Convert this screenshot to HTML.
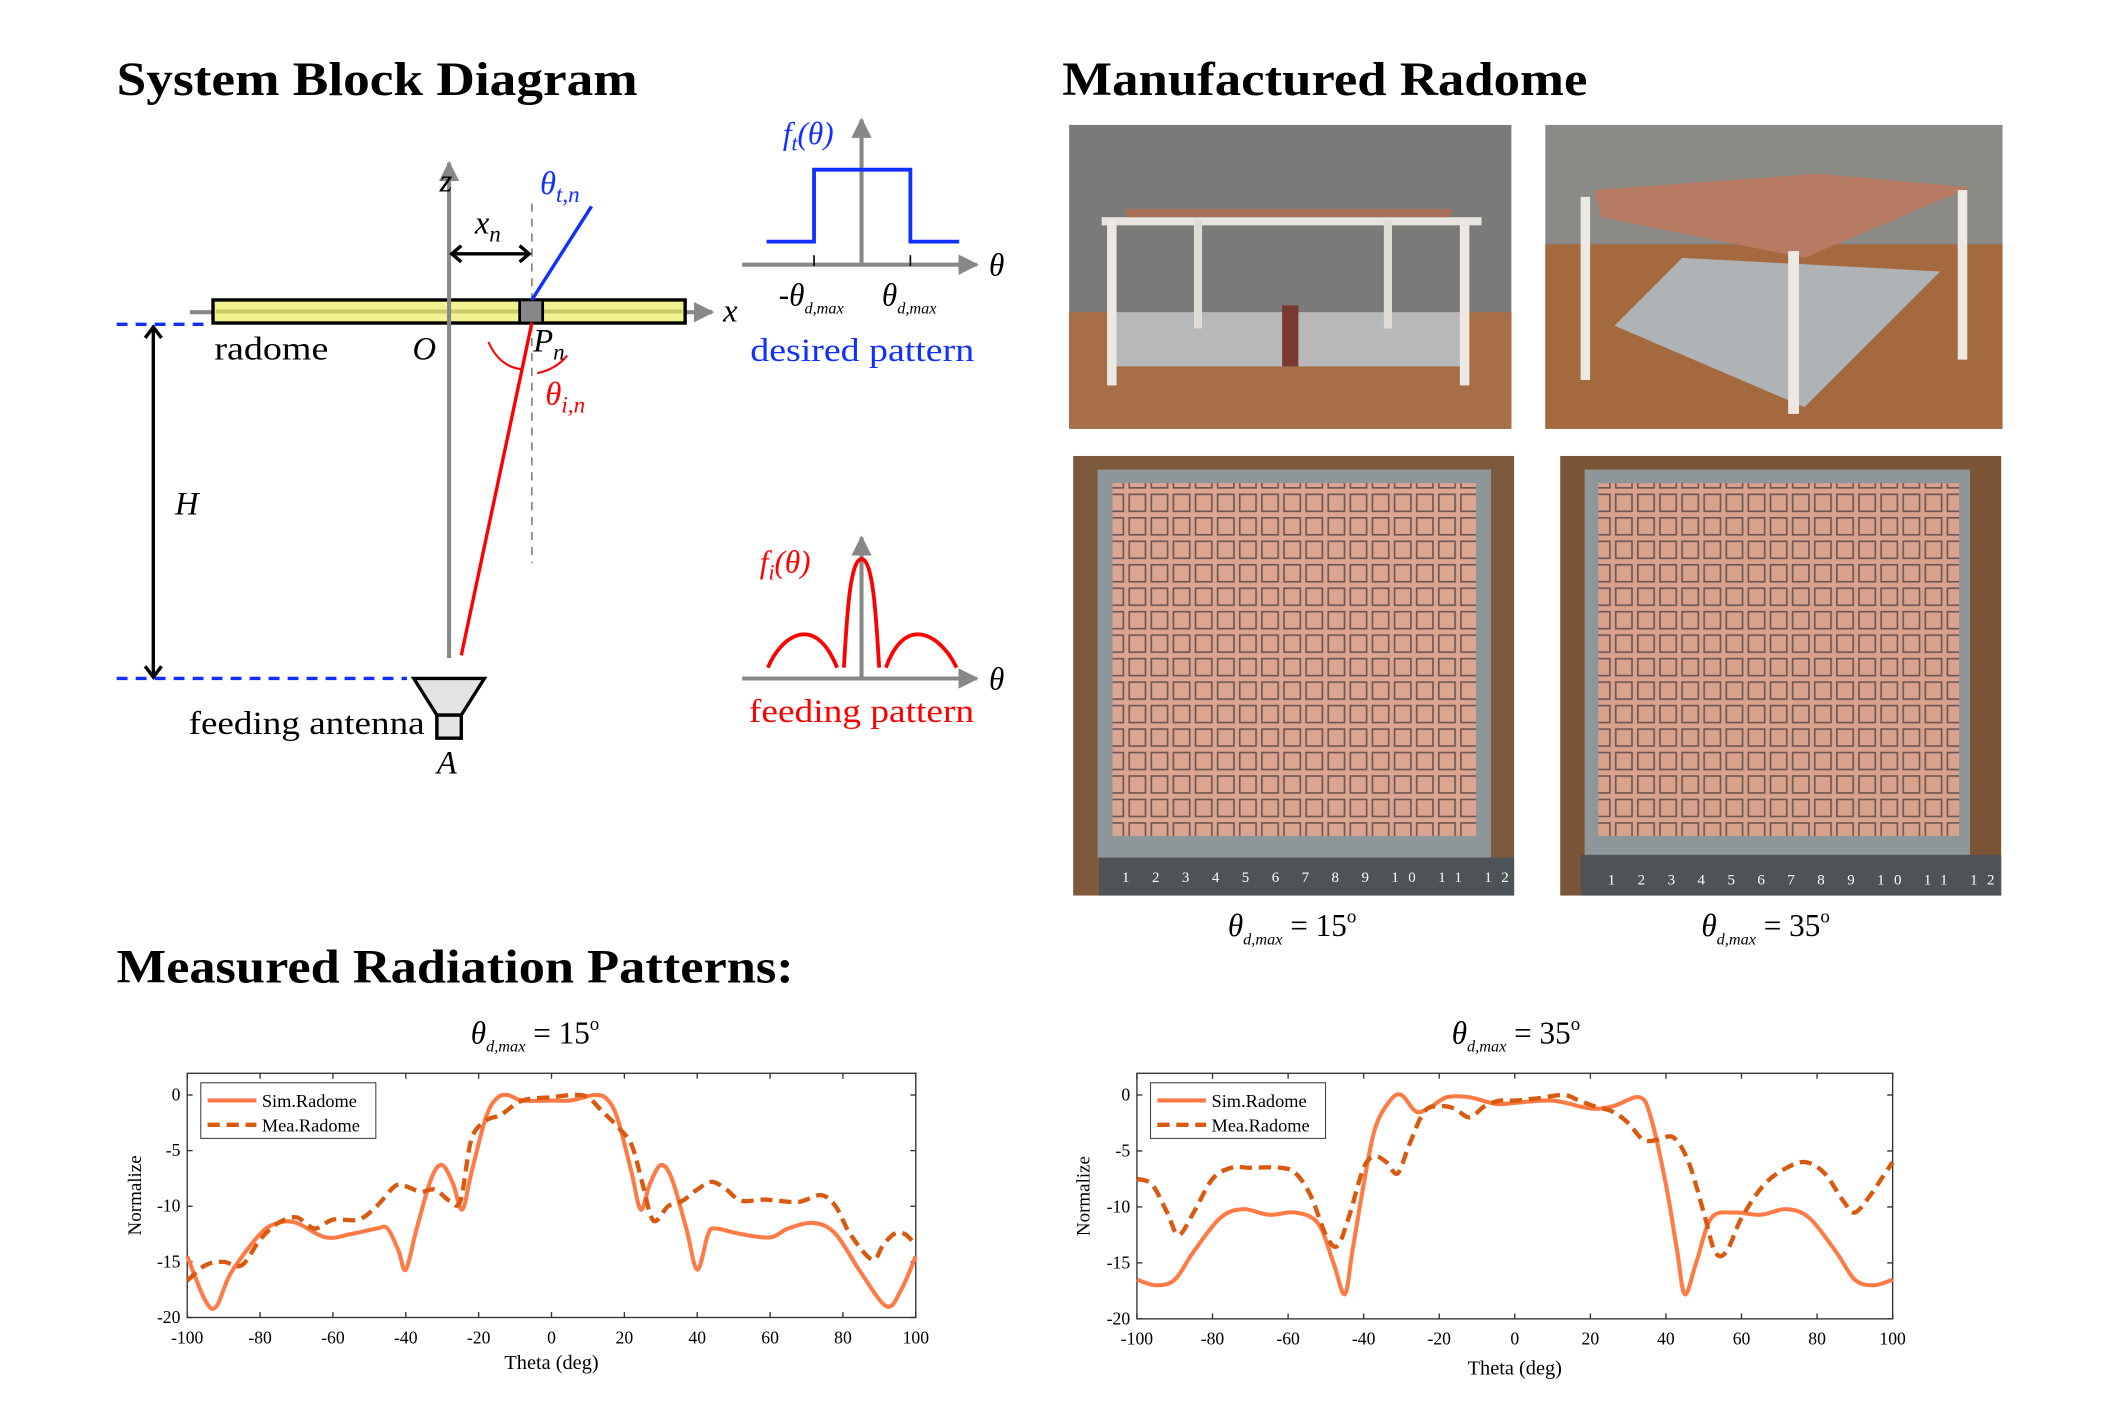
<!DOCTYPE html>
<html><head><meta charset="utf-8"><style>
html,body{margin:0;padding:0;background:#fff;}
svg{display:block;}
text{font-family:"Liberation Serif",serif;}
</style></head><body>
<svg id="s" width="2126" height="1418" viewBox="0 0 1567 1045" xmlns="http://www.w3.org/2000/svg">
<defs>
<marker id="ag" viewBox="0 0 10 10" refX="9" refY="5" markerWidth="5" markerHeight="5" orient="auto"><path d="M0,0L10,5L0,10z" fill="#888"/></marker>
<pattern id="sq" width="16.3" height="17.3" patternUnits="userSpaceOnUse"><rect x="1" y="1" width="12" height="12.5" fill="none" stroke="#6d5552" stroke-width="1.2"/></pattern>
</defs>
<rect width="1567" height="1045" fill="#fff"/>
<!-- Titles -->
<text x="86" y="70" font-size="35" font-weight="bold" textLength="384" lengthAdjust="spacingAndGlyphs">System Block Diagram</text>
<text x="783" y="70" font-size="35" font-weight="bold" textLength="387" lengthAdjust="spacingAndGlyphs">Manufactured Radome</text>
<text x="86" y="724" font-size="35" font-weight="bold" textLength="499" lengthAdjust="spacingAndGlyphs">Measured Radiation Patterns:</text>

<!-- Block diagram -->
<line x1="140" y1="230" x2="525" y2="230" stroke="#888" stroke-width="3" marker-end="url(#ag)"/>
<rect x="157" y="221" width="348" height="17" fill="#f2f290" stroke="#000" stroke-width="2.5"/>
<line x1="159" y1="229.5" x2="503" y2="229.5" stroke="#c9c96a" stroke-width="3"/>
<line x1="331" y1="485" x2="331" y2="120" stroke="#888" stroke-width="3" marker-end="url(#ag)"/>
<line x1="392" y1="150" x2="392" y2="415" stroke="#888" stroke-width="1.3" stroke-dasharray="6,5"/>
<rect x="383" y="221" width="17" height="17" fill="#888" stroke="#000" stroke-width="2"/>
<line x1="392" y1="221" x2="436" y2="152" stroke="#1030ff" stroke-width="2.5"/>
<line x1="392" y1="238" x2="340" y2="483" stroke="#f00" stroke-width="2.5"/>
<path d="M360,252 Q368,270 384,272" fill="none" stroke="#f00" stroke-width="1.5"/>
<path d="M418,262 Q410,272 396,275" fill="none" stroke="#f00" stroke-width="1.5"/>
<line x1="334" y1="187" x2="389" y2="187" stroke="#000" stroke-width="2.5"/>
<path d="M340,181L333,187L340,193M383,181L390,187L383,193" fill="none" stroke="#000" stroke-width="2.5"/>
<line x1="86" y1="239" x2="150" y2="239" stroke="#1030ff" stroke-width="2.5" stroke-dasharray="8,6"/>
<line x1="86" y1="500" x2="300" y2="500" stroke="#1030ff" stroke-width="2.5" stroke-dasharray="8,6"/>
<line x1="113" y1="242" x2="113" y2="498" stroke="#000" stroke-width="2.5"/>
<path d="M107,249L113,241L119,249M107,491L113,499L119,491" fill="none" stroke="#000" stroke-width="2.5"/>
<path d="M305,500L357,500L340,527L322,527z" fill="#e3e3e3" stroke="#000" stroke-width="2.5"/>
<rect x="322" y="527" width="18" height="17" fill="#e3e3e3" stroke="#000" stroke-width="2.5"/>
<g font-size="24">
<text x="158" y="265" textLength="84" lengthAdjust="spacingAndGlyphs">radome</text>
<text x="304" y="265" font-style="italic">O</text>
<text x="393" y="259" font-style="italic">P<tspan font-size="17" dy="6">n</tspan></text>
<text x="324" y="141" font-style="italic">z</text>
<text x="533" y="237" font-style="italic">x</text>
<text x="350" y="172" font-style="italic">x<tspan font-size="17" dy="6">n</tspan></text>
<text x="398" y="143" font-style="italic" fill="#1030ff">θ<tspan font-size="17" dy="6">t,n</tspan></text>
<text x="402" y="298" font-style="italic" fill="#f00">θ<tspan font-size="17" dy="6">i,n</tspan></text>
<text x="129" y="379" font-style="italic">H</text>
<text x="139" y="541" textLength="174" lengthAdjust="spacingAndGlyphs">feeding antenna</text>
<text x="322" y="570" font-style="italic">A</text>
</g>
<!-- desired pattern -->
<line x1="547" y1="195" x2="720" y2="195" stroke="#888" stroke-width="3" marker-end="url(#ag)"/>
<line x1="635" y1="195" x2="635" y2="88" stroke="#888" stroke-width="3" marker-end="url(#ag)"/>
<path d="M565,178H600V125H671V178H707" fill="none" stroke="#1030ff" stroke-width="2.8"/>
<line x1="600" y1="188" x2="600" y2="196" stroke="#000" stroke-width="1.2"/>
<line x1="671" y1="188" x2="671" y2="196" stroke="#000" stroke-width="1.2"/>
<g font-size="23" font-style="italic">
<text x="729" y="203">θ</text>
<text x="729" y="508">θ</text>
<text x="577" y="106" fill="#1030ff">f<tspan font-size="16" dy="5">t</tspan><tspan dy="-5">(θ)</tspan></text>
<text x="560" y="422" fill="#f00">f<tspan font-size="16" dy="5">i</tspan><tspan dy="-5">(θ)</tspan></text>
<text x="574" y="225">-θ<tspan font-size="12" dy="6">d,max</tspan></text>
<text x="650" y="225">θ<tspan font-size="12" dy="6">d,max</tspan></text>
</g>
<text x="553" y="266" font-size="24" fill="#1030ff" textLength="165" lengthAdjust="spacingAndGlyphs">desired pattern</text>
<!-- feeding pattern -->
<line x1="547" y1="500" x2="720" y2="500" stroke="#888" stroke-width="3" marker-end="url(#ag)"/>
<line x1="635" y1="500" x2="635" y2="396" stroke="#888" stroke-width="3" marker-end="url(#ag)"/>
<path d="M566,492 C575,470 600,450 617,492 M622,492 C624,460 626,412 635,412 C644,412 646,460 648,492 M653,492 C668,450 695,470 705,492" fill="none" stroke="#f00" stroke-width="2.8"/>
<text x="552" y="532" font-size="24" fill="#f00" textLength="166" lengthAdjust="spacingAndGlyphs">feeding pattern</text>

<!-- Photos -->
<rect x="788" y="92" width="326" height="224" fill="#7a7a78"/>
<rect x="788" y="230" width="326" height="86" fill="#a66f45"/>
<rect x="820" y="230" width="260" height="40" fill="#b6b8ba"/>
<rect x="812" y="160" width="280" height="6" fill="#e8e4de"/>
<rect x="816" y="162" width="7" height="122" fill="#ece8e2"/><rect x="1076" y="162" width="7" height="122" fill="#ece8e2"/>
<rect x="880" y="162" width="6" height="80" fill="#e0dcd6"/><rect x="1020" y="162" width="6" height="80" fill="#e0dcd6"/>
<rect x="830" y="154" width="240" height="6" fill="#a97058"/>
<rect x="945" y="225" width="12" height="45" fill="#7a3a30"/>
<rect x="1139" y="92" width="337" height="224" fill="#8b8a86"/>
<rect x="1139" y="180" width="337" height="136" fill="#a4693f"/>
<path d="M1175,140L1340,128L1452,138L1330,190L1180,160z" fill="#b77a62"/>
<path d="M1190,240L1240,190L1430,200L1330,300z" fill="#b0b3b5"/>
<rect x="1165" y="145" width="7" height="135" fill="#ece8e2"/><rect x="1318" y="185" width="8" height="120" fill="#ece8e2"/><rect x="1443" y="140" width="7" height="125" fill="#ece8e2"/>
<rect x="791" y="336" width="325" height="324" fill="#7e5a3c"/>
<rect x="809" y="346" width="290" height="286" fill="#8f9699"/>
<rect x="820" y="356" width="268" height="260" fill="#dca592"/>
<rect x="820" y="356" width="268" height="260" fill="url(#sq)"/>
<rect x="810" y="632" width="306" height="28" fill="#4d5356"/>
<rect x="1150" y="336" width="325" height="324" fill="#7a5536"/>
<rect x="1168" y="346" width="284" height="286" fill="#8f9699"/>
<rect x="1178" y="356" width="266" height="260" fill="#d9a28d"/>
<rect x="1178" y="356" width="266" height="260" fill="url(#sq)"/>
<rect x="1165" y="630" width="310" height="30" fill="#4d5356"/>
<g font-size="11" fill="#fff">
<text x="827" y="650" textLength="285">1  2  3  4  5  6  7  8  9  10 11 12</text>
<text x="1185" y="652" textLength="285">1  2  3  4  5  6  7  8  9  10 11 12</text>
</g>
<g font-size="23" font-style="italic">
<text x="905" y="690">θ<tspan font-size="12" dy="6">d,max</tspan><tspan font-style="normal" dy="-6"> = 15</tspan><tspan font-size="14" font-style="normal" dy="-10">o</tspan></text>
<text x="1254" y="690">θ<tspan font-size="12" dy="6">d,max</tspan><tspan font-style="normal" dy="-6"> = 35</tspan><tspan font-size="14" font-style="normal" dy="-10">o</tspan></text>
<text x="347" y="769">θ<tspan font-size="12" dy="6">d,max</tspan><tspan font-style="normal" dy="-6"> = 15</tspan><tspan font-size="14" font-style="normal" dy="-10">o</tspan></text>
<text x="1070" y="769">θ<tspan font-size="12" dy="6">d,max</tspan><tspan font-style="normal" dy="-6"> = 35</tspan><tspan font-size="14" font-style="normal" dy="-10">o</tspan></text>
</g>
<g id="plots"></g>
</svg>
<script>
var NS="http://www.w3.org/2000/svg";
var G=document.getElementById("plots");
function el(t,a,txt){var e=document.createElementNS(NS,t);for(var k in a)e.setAttribute(k,a[k]);if(txt!==undefined)e.textContent=txt;G.appendChild(e);return e;}
function plot(L,R,T,y0,y20,sim,mea,ylx,xly){
 var X=function(t){return L+(t+100)/200*(R-L)},Y=function(v){return y0+(y20-y0)*(-v/20)};
 el("rect",{x:L,y:T,width:R-L,height:y20-T,fill:"none",stroke:"#333","stroke-width":1});
 for(var t=-100;t<=100;t+=20){var x=X(t);el("line",{x1:x,y1:y20,x2:x,y2:y20-4,stroke:"#333"});el("line",{x1:x,y1:T,x2:x,y2:T+4,stroke:"#333"});
  el("text",{x:x,y:y20+19,"font-size":13,"text-anchor":"middle"},t);}
 for(var v=0;v>=-20;v-=5){var y=Y(v);el("line",{x1:L,y1:y,x2:L+4,y2:y,stroke:"#333"});el("line",{x1:R,y1:y,x2:R-4,y2:y,stroke:"#333"});
  el("text",{x:L-5,y:y+4,"font-size":13,"text-anchor":"end"},v);}
 el("text",{x:ylx,y:(T+y20)/2,"font-size":14,"text-anchor":"middle",transform:"rotate(-90 "+ylx+" "+((T+y20)/2)+")"},"Normalize");
 el("text",{x:(L+R)/2,y:xly,"font-size":15,"text-anchor":"middle"},"Theta (deg)");
 function path(p){var pts=p.map(function(q){return[X(q[0]),Y(q[1])]});var d="M"+pts[0][0]+","+pts[0][1];
  for(var i=0;i<pts.length-1;i++){var p0=pts[Math.max(0,i-1)],p1=pts[i],p2=pts[i+1],p3=pts[Math.min(pts.length-1,i+2)];
   d+="C"+(p1[0]+(p2[0]-p0[0])/6)+","+(p1[1]+(p2[1]-p0[1])/6)+" "+(p2[0]-(p3[0]-p1[0])/6)+","+(p2[1]-(p3[1]-p1[1])/6)+" "+p2[0]+","+p2[1];}
  return d;}
 el("path",{d:path(sim),fill:"none",stroke:"#ff7a45","stroke-width":3});
 el("path",{d:path(mea),fill:"none",stroke:"#d95a0f","stroke-width":3.2,"stroke-dasharray":"9,5"});
 el("rect",{x:L+10,y:T+7,width:129,height:41,fill:"#fff",stroke:"#444","stroke-width":0.8});
 el("line",{x1:L+15,y1:T+20,x2:L+51,y2:T+20,stroke:"#ff7a45","stroke-width":3});
 el("line",{x1:L+15,y1:T+38,x2:L+51,y2:T+38,stroke:"#d95a0f","stroke-width":3.2,"stroke-dasharray":"9,5"});
 el("text",{x:L+55,y:T+25,"font-size":13.5},"Sim.Radome");
 el("text",{x:L+55,y:T+43,"font-size":13.5},"Mea.Radome");
}
var s1=[[-100,-14.5],[-95,-18.5],[-92,-19],[-88,-16],[-80,-12.5],[-75,-11.5],[-70,-11.5],[-62,-12.8],[-55,-12.5],[-48,-12],[-45,-12],[-42,-14],[-40,-15.7],[-37,-12],[-33,-7.5],[-30,-6.3],[-27,-8],[-24.5,-10.3],[-22,-7],[-18,-2],[-15,-0.3],[-12,0],[-8,-0.5],[0,-0.5],[5,-0.5],[9,-0.2],[12,0],[15,-0.3],[18,-2],[22,-7],[24.5,-10.3],[27,-8],[30,-6.3],[33,-7.5],[37,-12],[40,-15.7],[43,-12.5],[45,-12],[52,-12.5],[60,-12.8],[65,-12],[72,-11.5],[78,-12.5],[85,-16],[92,-19],[96,-17.5],[100,-14.5]];
var m1=[[-100,-16.7],[-95,-15.3],[-90,-15],[-85,-15.3],[-80,-13],[-75,-11.5],[-70,-11],[-65,-12],[-60,-11.2],[-53,-11.2],[-48,-10],[-43,-8.2],[-40,-8.2],[-36,-8.7],[-32,-8.5],[-28,-9.5],[-25,-9.5],[-22,-4],[-18,-2.3],[-14,-1.8],[-8,-0.5],[0,-0.2],[6,0],[10,-0.2],[14,-1.5],[18,-2.8],[22,-4.5],[25,-8],[28,-11.3],[32,-10],[36,-9.5],[40,-8.5],[44,-7.8],[48,-8.5],[52,-9.5],[58,-9.4],[62,-9.5],[68,-9.6],[74,-9],[78,-10],[82,-12.5],[88,-14.8],[91,-13.5],[94,-12.5],[97,-12.5],[100,-13.5]];
var s2=[[-100,-16.5],[-95,-17],[-90,-16.5],[-85,-14],[-78,-11],[-72,-10.2],[-65,-10.7],[-58,-10.5],[-52,-11.5],[-48,-15],[-45,-17.8],[-43,-14],[-40,-8],[-37,-3],[-33,-0.5],[-30,0],[-26,-1.5],[-22,-1],[-18,-0.2],[-12,-0.2],[-5,-0.8],[0,-0.7],[10,-0.5],[20,-1.2],[26,-1],[33,-0.2],[36,-2],[40,-8],[43,-14],[45,-17.8],[48,-15],[52,-11],[58,-10.5],[65,-10.7],[72,-10.2],[78,-11],[85,-14],[90,-16.5],[95,-17],[100,-16.5]];
var m2=[[-100,-7.5],[-96,-8],[-92,-10.5],[-89,-12.5],[-85,-10.5],[-80,-7.5],[-75,-6.5],[-70,-6.5],[-62,-6.5],[-58,-7],[-54,-9],[-50,-12.5],[-47,-13.5],[-44,-11],[-40,-6.5],[-37,-5.5],[-34,-6],[-31,-7],[-28,-4.5],[-24,-1.5],[-20,-1],[-16,-1.2],[-12,-2],[-8,-1],[-4,-0.5],[0,-0.5],[6,-0.3],[13,0],[17,-0.5],[21,-1],[26,-1.5],[30,-2.5],[34,-4],[38,-4],[42,-3.8],[46,-6],[50,-10.5],[53,-14],[56,-14],[60,-11],[66,-8],[72,-6.5],[77,-6],[82,-7],[87,-9.5],[90,-10.5],[94,-9],[97,-7.5],[100,-6]];
plot(138,675,791,807,971,s1,m1,104,1009);
plot(838,1395,791,807,972,s2,m2,803,1013);
</script>
</body></html>
